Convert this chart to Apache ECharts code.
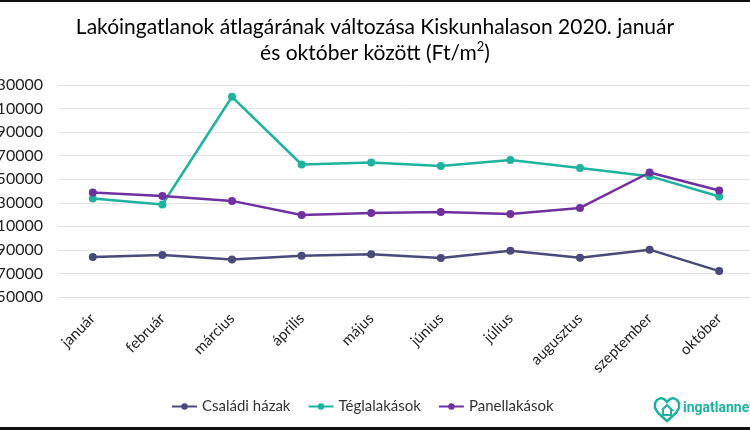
<!DOCTYPE html>
<html>
<head>
<meta charset="utf-8">
<script src="https://cdn.jsdelivr.net/npm/echarts@6/dist/echarts.min.js"></script>
<style>
html, body { margin: 0; padding: 0; background: #fff; }
#chart { width: 750px; height: 430px; }
</style>
</head>
<body>
<div id="chart"></div>
<script>
// havi kategóriák
var months = ['január', 'február', 'március', 'április', 'május', 'június', 'július', 'augusztus', 'szeptember', 'október'];
// Ft/m2 értékek
var csaladiHazak = [183900, 185600, 181900, 185000, 186200, 183100, 189300, 183300, 190200, 172000];
var teglalakasok = [233600, 228500, 320000, 262500, 264200, 261300, 266400, 259600, 252600, 235300];
var panellakasok = [238700, 235800, 231600, 219600, 221300, 222100, 220500, 225600, 255700, 240400];

var font = 'Lato, "Open Sans", sans-serif';
var teal = '#1fb39f';
var chart = echarts.init(document.getElementById('chart'));

function line(name, data, color) {
    return {
        name: name,
        type: 'line',
        data: data,
        symbol: 'circle',
        symbolSize: 8,
        lineStyle: { width: 2.5, color: color },
        itemStyle: { color: color }
    };
}

chart.setOption({
    animation: false,
    title: {
        text: 'Lakóingatlanok átlagárának változása Kiskunhalason 2020. január\nés október között (Ft/m{sup|2})',
        left: 'center',
        top: 9,
        textStyle: {
            fontFamily: font,
            fontSize: 21,
            fontWeight: 'normal',
            color: '#000',
            lineHeight: 26,
            rich: {
                sup: { fontFamily: font, fontSize: 13, verticalAlign: 'top', lineHeight: 26, color: '#000', padding: [0, 0, 8, 0] }
            }
        }
    },
    legend: {
        bottom: 11,
        left: 166,
        itemWidth: 25,
        itemHeight: 8,
        itemGap: 17,
        textStyle: { fontFamily: font, fontSize: 15, color: '#333' },
        data: ['Családi házak', 'Téglalakások', 'Panellakások']
    },
    grid: {
        left: 58,
        right: -4,
        top: 85,
        bottom: 133,
        containLabel: false,
        outerBoundsMode: 'none'
    },
    xAxis: {
        type: 'category',
        data: months,
        axisLine: { lineStyle: { color: '#e0e0e0' } },
        axisTick: { show: false },
        axisLabel: {
            rotate: 45,
            interval: 0,
            margin: 19,
            fontFamily: font,
            fontSize: 15,
            color: '#222'
        }
    },
    yAxis: {
        type: 'value',
        min: 150000,
        max: 330000,
        interval: 20000,
        axisLine: { show: false },
        axisTick: { show: false },
        axisLabel: {
            margin: 15,
            fontFamily: font,
            fontSize: 16,
            color: '#222',
            formatter: function (v) { return String(v); }
        },
        splitLine: { lineStyle: { color: '#e3e3e3', width: 1 } }
    },
    series: [
        line('Családi házak', csaladiHazak, '#4a4a7a'),
        line('Téglalakások', teglalakasok, teal),
        line('Panellakások', panellakasok, '#7030a0')
    ],
    graphic: [
        { type: 'rect', shape: { x: 0, y: 0, width: 750, height: 2 }, style: { fill: '#111' } },
        { type: 'rect', shape: { x: 0, y: 427, width: 750, height: 3 }, style: { fill: '#111' } },
        {
            type: 'polygon',
            shape: { points: [[12, 23], [3, 15], [0, 10], [0, 5], [2, 2], [6, 0], [9, 1], [12, 4], [15, 1], [18, 0], [22, 2], [24, 5], [24, 10], [21, 15]] },
            x: 655, y: 398,
            style: { fill: 'none', stroke: teal, lineWidth: 2.5 }
        },
        {
            type: 'polyline',
            shape: { points: [[7, 12], [12, 7], [17, 12], [16, 12], [16, 17], [8, 17], [8, 12]] },
            x: 655, y: 398,
            style: { fill: 'none', stroke: teal, lineWidth: 2 }
        },
        {
            type: 'text',
            x: 683, y: 401,
            style: { text: 'ingatlannet.hu', fontFamily: 'Roboto, sans-serif', fontSize: 14, fontWeight: 'bold', fill: teal }
        }
    ]
});
</script>
</body>
</html>
